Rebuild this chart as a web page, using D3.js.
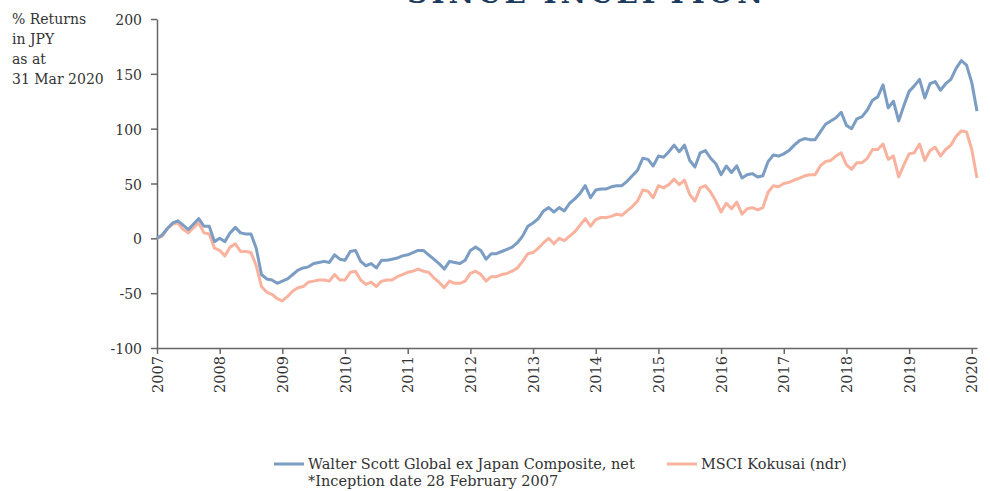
<html>
    <head>
        <meta charset='UTF-8'>
        <script src="https://d3js.org/d3.v7.min.js"></script>
        <style>
            body { margin: 0; background: white; }
            text { font-family: 'DejaVu Serif', serif; fill: #333; }
            .axis .domain, .axis line { stroke: #666; stroke-width: 1.5px; }
            .axis text { font-size: 14px; font-family: 'DejaVu Serif', serif; fill: #333; }
            .series { fill: none; stroke-width: 3px; stroke-linejoin: round; }
        </style>
    </head>
    <body>
        <svg id="chart" width="990" height="491"></svg>
        <script>
            // monthly returns since inception (Feb 2007 -> Mar 2020)
            const yearLabels = ['2007','2008','2009','2010','2011','2012','2013','2014','2015','2016','2017','2018','2019','2020'];
            const seriesNames = ['Walter Scott Global ex Japan Composite, net', 'MSCI Kokusai (ndr)'];
            const footnote = '*Inception date 28 February 2007';
            const yTicks = [-100, -50, 0, 50, 100, 150, 200];

            const walterScott = [0,3,9,14,16,12,8,13,18,11,11,-3,0,-3,5,10,5,4,4,-9,
                -33,-37,-38,-41,-39,-37,-33,-29,-27,-26,-23,-22,-21,-22,-15,-19,-20,-12,-11,-21,
                -25,-23,-27,-20,-20,-19,-18,-16,-15,-13,-11,-11,-15,-19,-23,-28,-21,-22,-23,-20,
                -11,-8,-11,-19,-14,-14,-12,-10,-8,-4,2,11,14,18,25,28,24,28,25,32,
                36,41,48,37,44,45,45,47,48,48,52,57,62,73,72,66,75,74,79,85,
                79,85,71,65,78,80,73,68,58,66,60,66,55,58,59,56,57,70,76,75,
                77,80,85,89,91,90,90,97,104,107,110,115,103,100,109,111,117,126,129,140,
                119,125,107,121,134,139,145,128,141,143,135,141,145,155,162,158,142,116];

            const kokusai = [0,2,9,13,14,8,5,10,14,5,4,-9,-11,-16,-8,-5,-12,-12,-13,-25,
                -44,-49,-51,-55,-57,-53,-48,-45,-44,-40,-39,-38,-38,-39,-33,-38,-38,-31,-30,-38,
                -42,-40,-44,-39,-38,-38,-35,-33,-31,-30,-28,-30,-31,-36,-40,-45,-39,-41,-41,-39,
                -32,-30,-33,-39,-35,-35,-33,-32,-30,-27,-21,-14,-13,-9,-4,0,-5,0,-2,2,
                6,12,18,11,17,19,19,20,22,21,25,29,34,44,43,37,48,46,49,54,
                49,53,40,34,46,48,42,34,24,32,27,33,22,27,28,26,28,42,48,47,
                50,51,53,55,57,58,58,66,70,71,75,78,67,63,69,69,73,81,81,86,
                72,75,56,67,77,78,86,71,80,83,75,81,85,93,98,97,81,55];

            const colors = ['#7b9cc3', '#f9b29d'];

            const svg = d3.select('#chart');
            const plotLeft = 157, plotRight = 977, plotTop = 19, plotBottom = 348;

            //scales: x is the month index, y the % return
            const x = d3.scaleLinear().domain([0, walterScott.length - 1]).range([plotLeft, plotRight]);
            const y = d3.scaleLinear().domain([-100, 200]).range([plotBottom, plotTop]);

            //title, clipped at the top edge like the original
            svg.append('text')
               .attr('x', 587).attr('y', 3)
               .attr('text-anchor', 'middle')
               .style('font-size', '28px').style('font-weight', 'bold')
               .style('letter-spacing', '4px').style('fill', '#1c3b5e')
               .text('SINCE INCEPTION');

            //y axis label
            const yLabel = svg.append('text').attr('x', 12).attr('y', 24).style('font-size', '14px');
            ['% Returns', 'in JPY', 'as at', '31 Mar 2020'].forEach((t, i) => {
                yLabel.append('tspan').attr('x', 12).attr('y', 24 + i * 20).text(t);
            });

            //axes (plain hyphen for negatives, like the original)
            svg.append('g').attr('class', 'axis')
               .attr('transform', 'translate(' + plotLeft + ',0)')
               .call(d3.axisLeft(y).tickValues(yTicks).tickSize(6).tickSizeOuter(0).tickPadding(9)
                       .tickFormat(d => String(d)))
               .selectAll('text').attr('dy', '0.4em');

            const xTicks = yearLabels.map((d, i) => i * 12);
            svg.append('g').attr('class', 'axis')
               .attr('transform', 'translate(0,' + plotBottom + ')')
               .call(d3.axisBottom(x).tickValues(xTicks).tickSize(6).tickSizeOuter(0)
                       .tickFormat((d, i) => yearLabels[i]))
               .selectAll('text')
               .style('font-size', '14.5px')
               .attr('transform', 'rotate(-90)')
               .attr('text-anchor', 'end')
               .attr('x', -8).attr('y', 0).attr('dy', '0.35em');

            //series lines, pink drawn first so blue sits on top
            const line = d3.line().x((d, i) => x(i)).y(d => y(d));
            [kokusai, walterScott].forEach((s, j) => {
                svg.append('path').datum(s)
                   .attr('class', 'series')
                   .attr('stroke', colors[1 - j])
                   .attr('d', line);
            });

            //legend
            const legendX = [274, 667];
            seriesNames.forEach((name, i) => {
                svg.append('line')
                   .attr('x1', legendX[i]).attr('x2', legendX[i] + 30)
                   .attr('y1', 464).attr('y2', 464)
                   .attr('stroke', colors[i]).attr('stroke-width', 3);
                svg.append('text')
                   .attr('x', legendX[i] + 34).attr('y', 469)
                   .style('font-size', '14.5px')
                   .text(name);
            });
            svg.append('text')
               .attr('x', legendX[0] + 34).attr('y', 486)
               .style('font-size', '14.5px')
               .text(footnote);
        </script>
    </body>
</html>
